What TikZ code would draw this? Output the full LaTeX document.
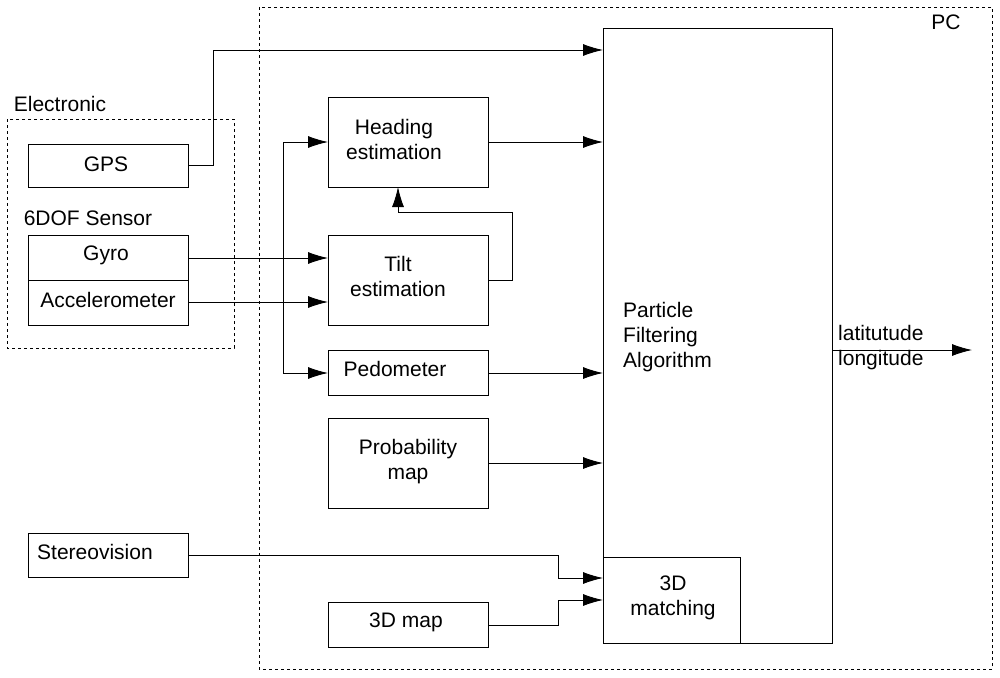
\documentclass[tikz,border=0pt]{standalone}
\usepackage{fontspec}
\setmainfont{Liberation Sans}
\usetikzlibrary{arrows.meta}
\begin{document}
\begin{tikzpicture}[x=1pt,y=-1pt,
  box/.style={draw,line width=0.8pt},
  dbox/.style={draw,dashed,line width=0.6pt},
  txt/.style={font=\fontsize{21}{25}\selectfont,align=center,inner sep=0},
  arr/.style={line width=0.8pt,-{Latex[length=20pt,width=12pt]}},
  ln/.style={line width=0.8pt}]
\useasboundingbox (0,0) rectangle (1000,677);
\draw[dbox] (259,7) rectangle (992,669);
\node[txt] (pc) at (946,22) {PC};
\draw[dbox] (7,119) rectangle (234,348);
\node[txt] (el) at (60,104) {Electronic};
\draw[box] (28,144) rectangle (188,187); \node[txt] (gps) at (106,164) {GPS};
\coordinate (gpsR) at (188,165);
\node[txt] (dof) at (88,218) {6DOF Sensor};
\draw[box] (28,235) rectangle (188,280); \node[txt] (gyro) at (106,255) {Gyro};
\draw[box] (28,280) rectangle (188,325); \node[txt] (acc) at (108,300) {Accelerometer};
\draw[box] (28,533) rectangle (188,577); \node[txt,anchor=west] (st) at (37,552) {Stereovision};
\draw[box] (328,97) rectangle (488,187); \node[txt] (head) at (394,139) {Heading\\estimation};
\draw[box] (328,235) rectangle (488,325); \node[txt] (tilt) at (398,276) {Tilt\\estimation};
\draw[box] (328,350) rectangle (488,395); \node[txt] (ped) at (395,369) {Pedometer};
\draw[box] (328,418) rectangle (488,508); \node[txt] (prob) at (408,462) {Probability\\map};
\draw[box] (328,602) rectangle (488,647); \node[txt] (map) at (406,622) {3D map};
\draw[box] (603,28) rectangle (832,643);
\node[txt,align=left,anchor=west] (pf) at (623,337) {Particle\\Filtering\\Algorithm};
\draw[box] (603,557) rectangle (740,643); \node[txt] (m3) at (673,598) {3D\\matching};
\node[txt,align=left,anchor=west] (ll) at (838,348) {latitutude\\longitude};
\coordinate (a) at (213,165); \coordinate (b) at (213,50); \coordinate (c) at (603,50);
\draw[arr] (gpsR) -- (a) -- (b) -- (c);
\draw[arr] (488,142) -- (603,142);
\draw[arr] (488,373) -- (603,373);
\draw[arr] (488,463) -- (603,463);
\draw[arr] (188,258) -- (328,258);
\draw[arr] (188,302) -- (328,302);
\draw[ln] (283,142) -- (283,373);
\draw[arr] (283,142) -- (328,142);
\draw[arr] (283,373) -- (328,373);
\draw[arr] (488,280) -- (512,280) -- (512,212) -- (398,212) -- (398,187);
\draw[arr] (188,555) -- (558,555) -- (558,578) -- (603,578);
\draw[arr] (488,625) -- (558,625) -- (558,600) -- (603,600);
\draw[arr] (832,350) -- (972,350);
\end{tikzpicture}
\end{document}
